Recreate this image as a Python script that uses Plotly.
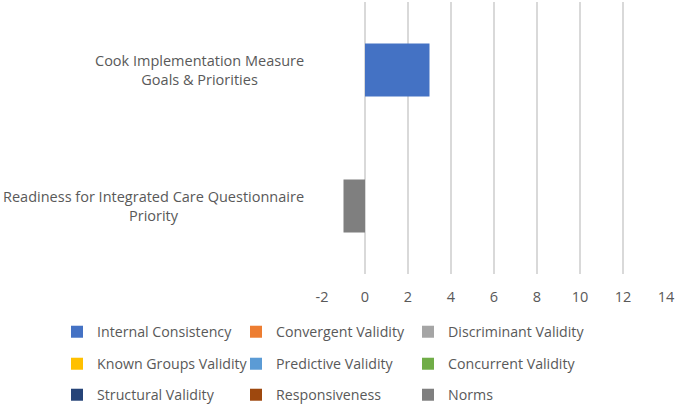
import plotly.graph_objects as go

categories = ["Cook Implementation Measure<br>Goals & Priorities",
              "Readiness for Integrated Care Questionnaire<br>Priority"]
series_names = ["Internal Consistency", "Convergent Validity", "Discriminant Validity",
                "Known Groups Validity", "Predictive Validity", "Concurrent Validity",
                "Structural Validity", "Responsiveness", "Norms"]
series_values = {
    "Internal Consistency": [3, 0],
    "Convergent Validity": [0, 0],
    "Discriminant Validity": [0, 0],
    "Known Groups Validity": [0, 0],
    "Predictive Validity": [0, 0],
    "Concurrent Validity": [0, 0],
    "Structural Validity": [0, 0],
    "Responsiveness": [0, 0],
    "Norms": [0, -1],
}
colors = ["#4472C4", "#ED7D31", "#A5A5A5", "#FFC000", "#5B9BD5", "#70AD47",
          "#264478", "#9E480E", "#7F7F7F"]
x_ticks = [-2, 0, 2, 4, 6, 8, 10, 12, 14]

FONT = "Open Sans"
TXT = "#595959"
W, H = 678, 406
col_x = [57, 236, 408]     # legend left edges (px)
row_y = [332, 364, 395]    # legend row centers (px from top)

fig = go.Figure()
legends = {}
for i, (name, col) in enumerate(zip(series_names, colors)):
    lid = "legend" if i == 0 else f"legend{i + 1}"
    fig.add_trace(go.Bar(
        y=categories, x=series_values[name], name=name, orientation="h",
        marker=dict(color=col, line=dict(width=0)),
        legend=lid,
    ))
    legends[lid] = dict(
        orientation="h", xref="container", yref="container",
        x=col_x[i % 3] / W, xanchor="left",
        y=(H - row_y[i // 3]) / H, yanchor="middle",
        font=dict(family=FONT, size=14.2, color=TXT),
        itemwidth=30, bgcolor="rgba(0,0,0,0)",
    )

for cat in categories:
    fig.add_annotation(
        x=0, xref="paper", xanchor="right", xshift=-16,
        y=cat, yref="y", yanchor="middle",
        text=cat, showarrow=False, align="center",
        font=dict(family=FONT, size=14.5, color=TXT),
    )

fig.update_layout(
    width=W, height=H,
    margin=dict(l=322, r=12, t=2, b=132),
    paper_bgcolor="white", plot_bgcolor="white",
    barmode="relative", bargap=0.61,
    font=dict(family=FONT, size=14, color=TXT),
    showlegend=True,
    **legends,
)
fig.update_xaxes(
    range=[-2, 14], tickvals=x_ticks, ticktext=[str(v) for v in x_ticks],
    showgrid=True, gridcolor="#D9D9D9", gridwidth=1.5, zeroline=False,
    showline=False, ticks="outside", ticklen=10, tickcolor="rgba(0,0,0,0)",
    tickfont=dict(family=FONT, size=14.5, color=TXT),
)
fig.update_yaxes(
    autorange="reversed", showticklabels=False, showgrid=False,
    zeroline=False, showline=False,
)

fig.write_html("out.html", config={"displayModeBar": False},
               post_script="document.body.style.margin='0px';")
